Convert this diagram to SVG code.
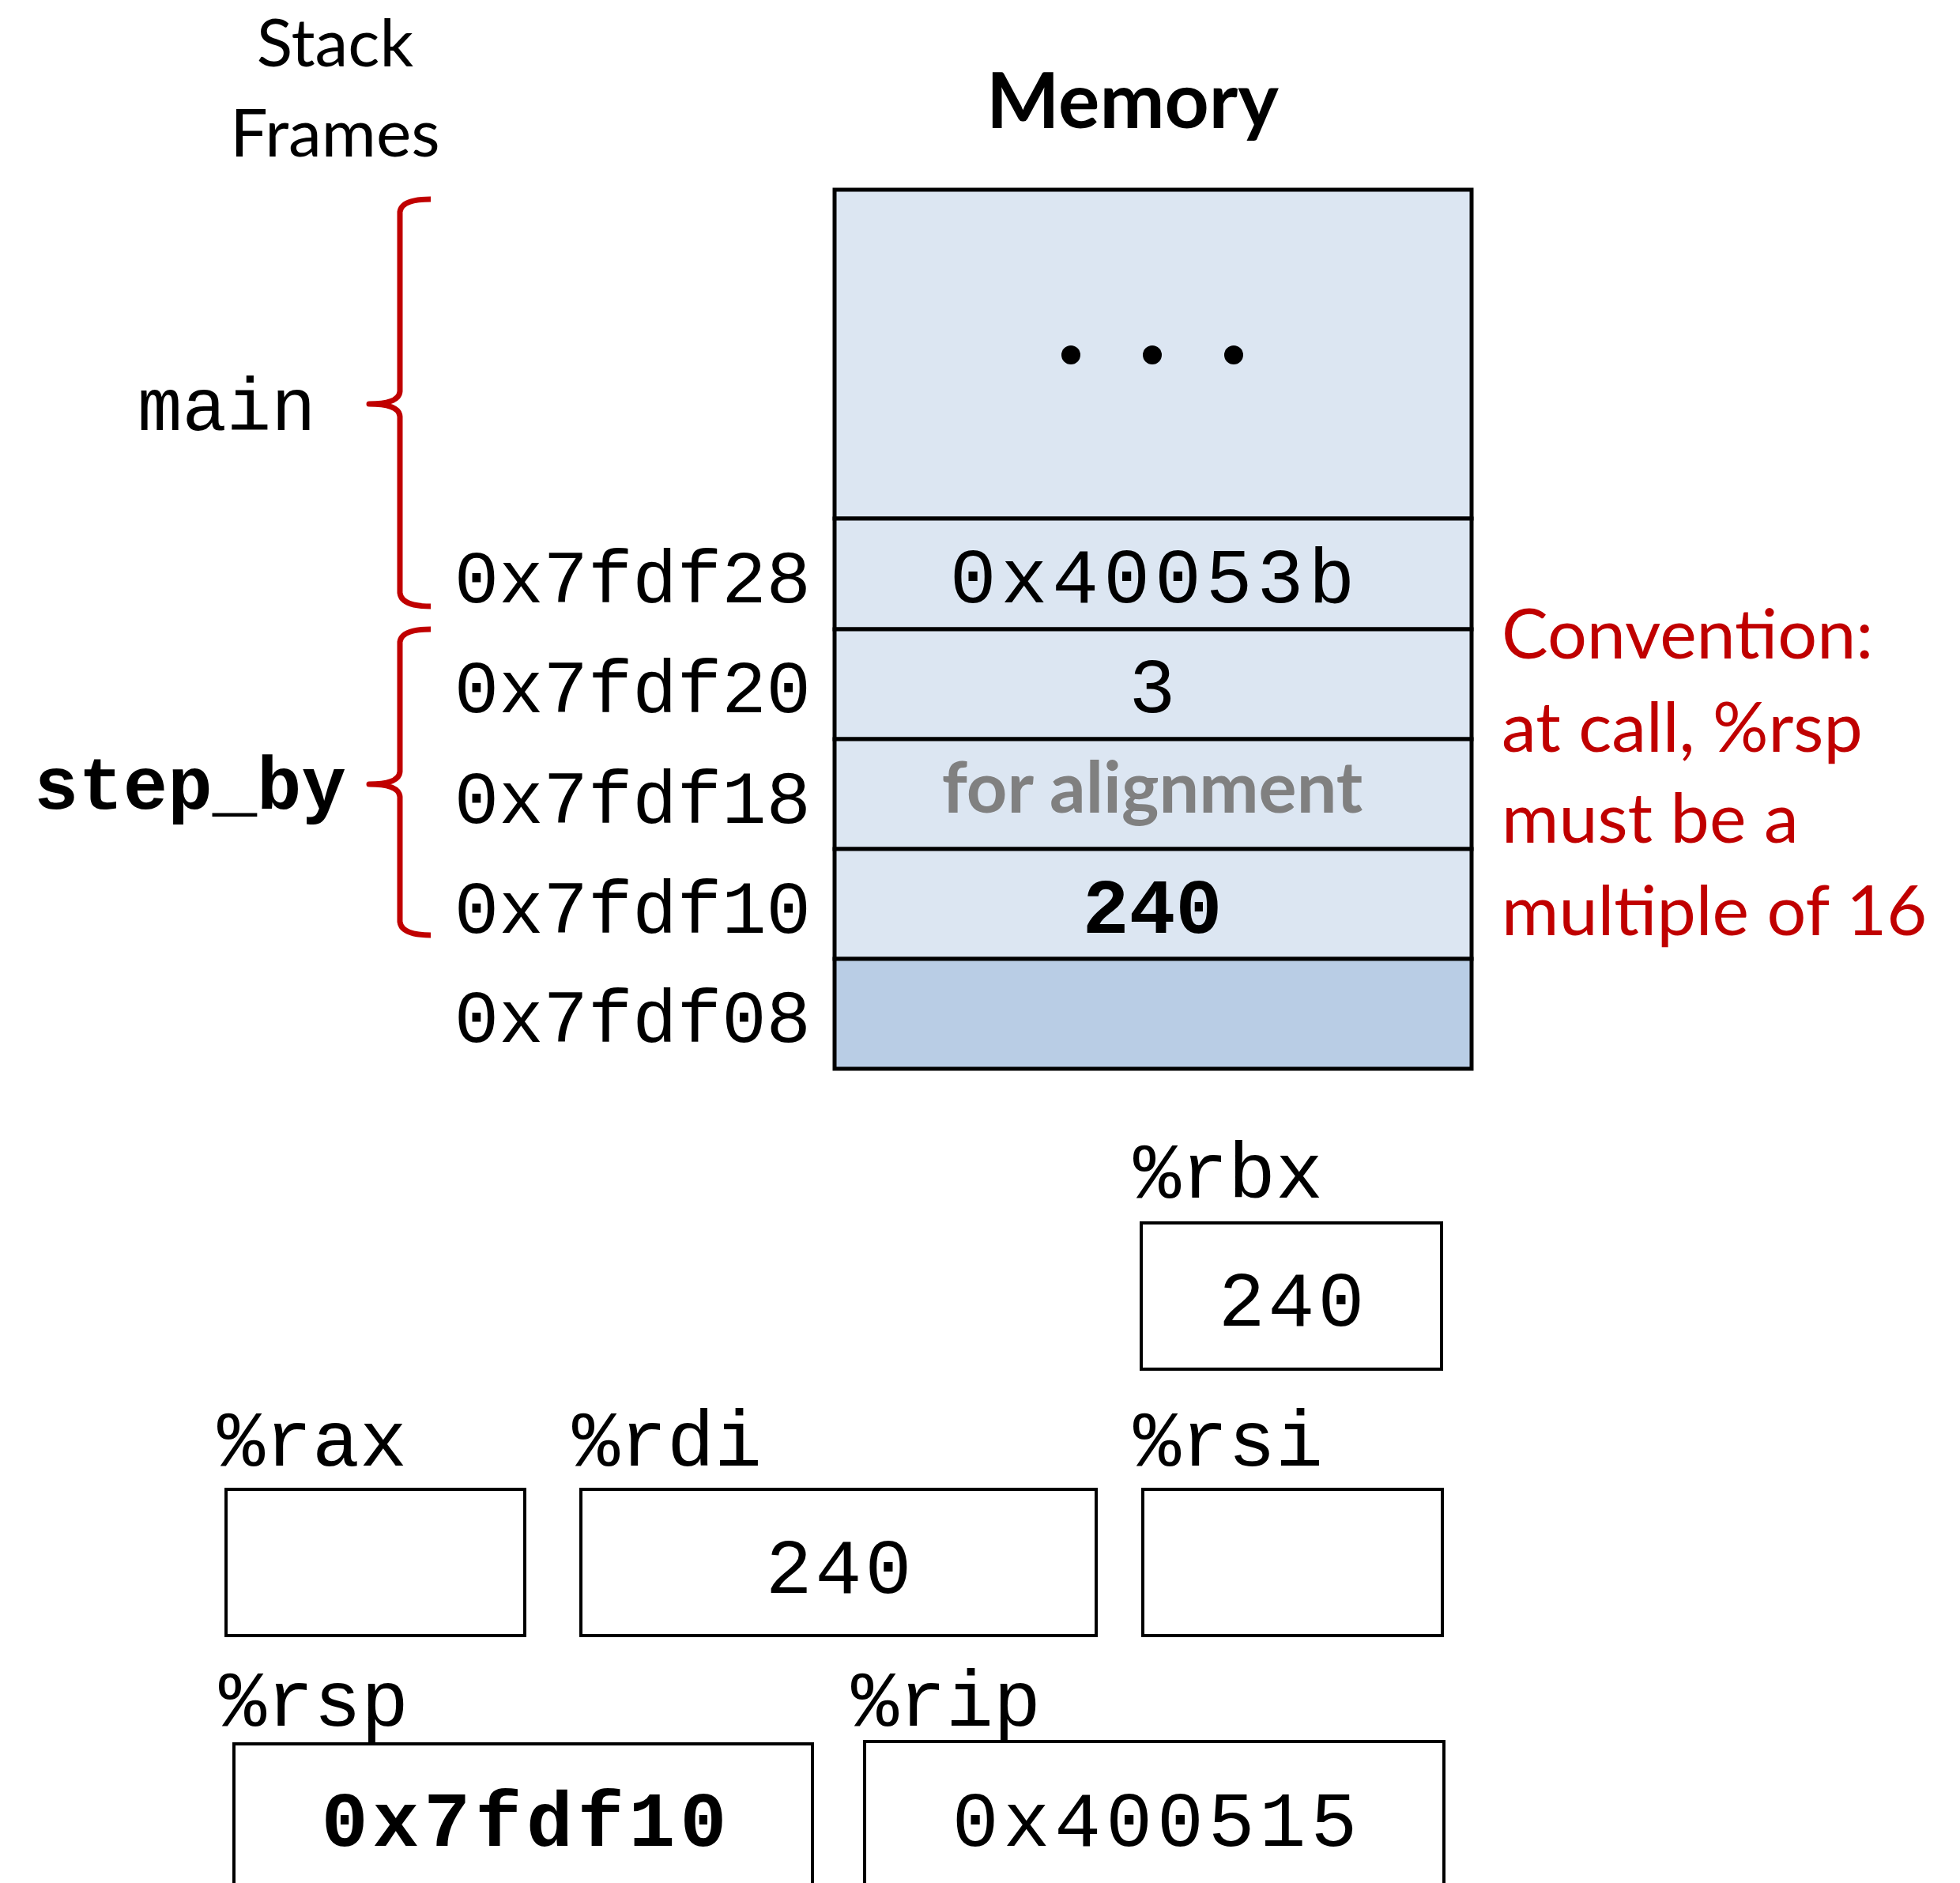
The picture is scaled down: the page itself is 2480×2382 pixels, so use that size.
<svg xmlns="http://www.w3.org/2000/svg" width="2480" height="2382" viewBox="0 0 2480 2382">
<style>
.hum{font-family:Lato,"Open Sans","Liberation Sans",sans-serif;}
.mono{font-family:"Liberation Mono","Courier New",monospace;}
.cell{fill:#DCE6F2;stroke:#000;stroke-width:5;}
.reg{fill:#fff;stroke:#000;stroke-width:4;}
.brace{fill:none;stroke:#C00000;stroke-width:7;stroke-linejoin:round;}
.addr{font-size:94px;text-anchor:end;fill:#000;}
.val{font-size:98px;text-anchor:middle;fill:#000;}
.rl{font-size:100px;fill:#000;}
</style>
<rect width="2480" height="2382" fill="#fff"/>
<g id="titles">
<text class="hum" x="424" y="84" font-size="84" text-anchor="middle">Stack</text>
<text class="hum" x="424" y="198" font-size="84" text-anchor="middle">Frames</text>
<text class="hum" x="1433" y="162" font-size="98" font-weight="bold" text-anchor="middle">Memory</text>
</g>
<g id="memory">
<rect class="cell" x="1056" y="240" width="806" height="416"/>
<circle cx="1355" cy="449" r="12"/>
<circle cx="1458" cy="449" r="12"/>
<circle cx="1561" cy="449" r="12"/>
<g id="m28"><rect class="cell" x="1056" y="656" width="806" height="140"/><text class="mono val" x="1461" y="762" letter-spacing="6">0x40053b</text></g>
<g id="m20"><rect class="cell" x="1056" y="796" width="806" height="139"/><text class="mono val" x="1458" y="901">3</text></g>
<g id="m18"><rect class="cell" x="1056" y="935" width="806" height="139"/><text class="hum" x="1458" y="1028" font-size="90" font-weight="bold" fill="#808080" text-anchor="middle">for alignment</text></g>
<g id="m10"><rect class="cell" x="1056" y="1074" width="806" height="139"/><text class="mono val" x="1458" y="1180" font-weight="bold">240</text></g>
<g id="m08"><rect class="cell" x="1056" y="1213" width="806" height="139" style="fill:#B9CDE5"/></g>
</g>
<g id="addresses">
<text class="mono addr" x="1026" y="762">0x7fdf28</text>
<text class="mono addr" x="1026" y="901">0x7fdf20</text>
<text class="mono addr" x="1026" y="1041">0x7fdf18</text>
<text class="mono addr" x="1026" y="1180">0x7fdf10</text>
<text class="mono addr" x="1026" y="1318">0x7fdf08</text>
</g>
<g id="frames">
<path class="brace" d="M545,252 Q508,252 506,268 L506,495 Q505,511 467,511 Q505,511 506,527 L506,750 Q508,767 545,767"/>
<text class="mono" x="174" y="544" font-size="94">main</text>
<path class="brace" d="M545,796 Q508,796 506,812 L506,976 Q505,992 467,992 Q505,992 506,1008 L506,1166 Q508,1183 545,1183"/>
<text class="mono" x="43" y="1023" font-size="94" font-weight="bold">step_by</text>
</g>
<g id="convention" class="hum" fill="#C00000" font-size="88">
<text x="1900" y="833">Convention:</text>
<text x="1900" y="951">at call, %rsp</text>
<text x="1900" y="1066">must be a</text>
<text x="1900" y="1183">multiple of 16</text>
</g>
<g id="rbx"><text class="mono rl" x="1434" y="1515">%rbx</text><rect class="reg" x="1444" y="1547" width="380" height="185"/><text class="mono val" x="1636" y="1677" letter-spacing="4">240</text></g>
<g id="rax"><text class="mono rl" x="275" y="1854">%rax</text><rect class="reg" x="286" y="1884" width="378" height="185"/></g>
<g id="rdi"><text class="mono rl" x="724" y="1854">%rdi</text><rect class="reg" x="735" y="1884" width="652" height="185"/><text class="mono val" x="1063" y="2015" letter-spacing="4">240</text></g>
<g id="rsi"><text class="mono rl" x="1434" y="1854">%rsi</text><rect class="reg" x="1446" y="1884" width="379" height="185"/></g>
<g id="rsp"><rect class="reg" x="296" y="2206" width="732" height="220"/><text class="mono rl" x="277" y="2183">%rsp</text><text class="mono val" x="666" y="2335" font-weight="bold" letter-spacing="6">0x7fdf10</text></g>
<g id="rip"><rect class="reg" x="1094" y="2203" width="733" height="220"/><text class="mono rl" x="1077" y="2183">%rip</text><text class="mono val" x="1464" y="2335" letter-spacing="6">0x400515</text></g>
<g id="connectors"></g>
</svg>
